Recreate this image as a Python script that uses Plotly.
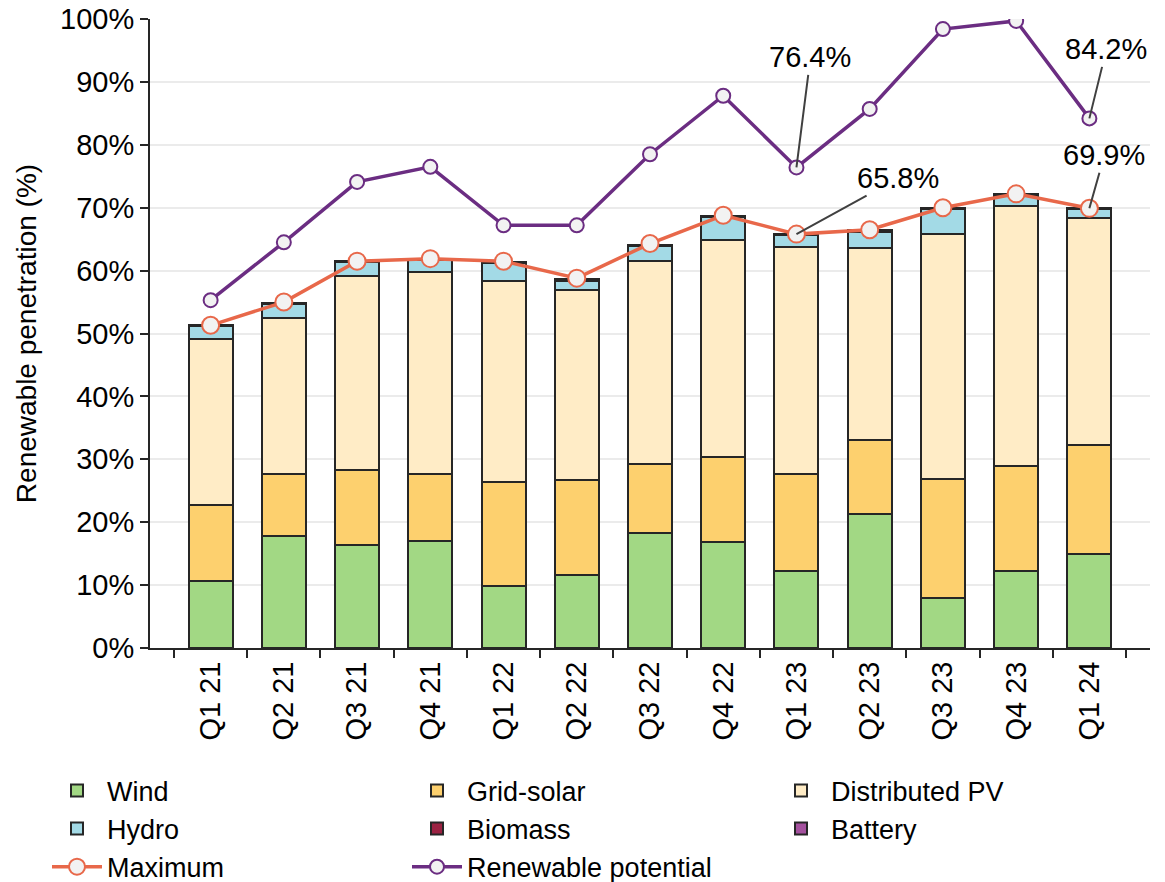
import plotly.graph_objects as go

categories = ["Q1 21", "Q2 21", "Q3 21", "Q4 21", "Q1 22", "Q2 22", "Q3 22",
              "Q4 22", "Q1 23", "Q2 23", "Q3 23", "Q4 23", "Q1 24"]
wind = [10.6, 17.8, 16.3, 17.0, 9.9, 11.6, 18.3, 16.9, 12.2, 21.3, 8.0, 12.2, 15.0]
grid_solar = [12.1, 9.9, 12.0, 10.6, 16.5, 15.1, 10.9, 13.5, 15.4, 11.8, 18.8, 16.7, 17.2]
distributed_pv = [26.4, 24.7, 30.8, 32.2, 31.9, 30.2, 32.4, 34.4, 36.1, 30.5, 39.0, 41.3, 36.1]
hydro = [2.1, 2.3, 2.2, 1.9, 2.9, 1.5, 2.3, 3.7, 1.9, 2.6, 4.0, 1.8, 1.5]
biomass = [0.2] * 13
battery = [0.0] * 13
maximum = [51.3, 55.0, 61.5, 61.9, 61.5, 58.8, 64.3, 68.8, 65.8, 66.5, 70.0, 72.2, 69.9]
potential = [55.3, 64.5, 74.1, 76.5, 67.2, 67.2, 78.5, 87.8, 76.4, 85.7, 98.4, 99.7, 84.2]

FONT = "Liberation Sans, Arial, sans-serif"
OUTLINE = "#262626"

fig = go.Figure()
bars = [
    ("Wind", wind, "#A2D884", "legend"),
    ("Grid-solar", grid_solar, "#FDD06E", "legend2"),
    ("Distributed PV", distributed_pv, "#FFECC6", "legend3"),
    ("Hydro", hydro, "#A3DAE6", "legend"),
    ("Biomass", biomass, "#9B2242", "legend2"),
    ("Battery", battery, "#A4519E", "legend3"),
]
for name, vals, col, lg in bars:
    fig.add_trace(go.Bar(x=categories, y=vals, name=name, width=0.6, legend=lg,
                         marker=dict(color=col, line=dict(color=OUTLINE, width=2))))

fig.add_trace(go.Scatter(x=categories, y=maximum, name="Maximum", mode="lines+markers",
                         legend="legend",
                         line=dict(color="#E8684A", width=3.5),
                         marker=dict(symbol="circle", size=17, color="#F2F2F2",
                                     line=dict(color="#E8684A", width=2))))
fig.add_trace(go.Scatter(x=categories, y=potential, name="Renewable potential", mode="lines+markers",
                         legend="legend2",
                         line=dict(color="#6B2D82", width=3.5),
                         marker=dict(symbol="circle", size=14, color="#F2F2F2",
                                     line=dict(color="#6B2D82", width=2))))

ann = [
    ("Q1 23", potential[8], "76.4%", 14, -110),
    ("Q1 24", potential[12], "84.2%", 17, -69),
    ("Q1 23", maximum[8], "65.8%", 102, -56),
    ("Q1 24", maximum[12], "69.9%", 15, -53),
]
for x, y, t, ax, ay in ann:
    fig.add_annotation(x=x, y=y, text=t, showarrow=True, arrowhead=0, arrowwidth=2,
                       arrowcolor="#404040", ax=ax, ay=ay, standoff=0,
                       font=dict(family=FONT, size=29, color="#000000"))

leg_common = dict(orientation="v", xref="paper", yref="container", xanchor="left",
                  yanchor="top", y=0.131, traceorder="normal", itemwidth=50,
                  font=dict(family=FONT, size=27), bgcolor="rgba(0,0,0,0)")
fig.update_layout(
    width=1165, height=882,
    barmode="stack",
    plot_bgcolor="white", paper_bgcolor="white",
    margin=dict(l=150, r=15, t=19, b=234, autoexpand=False),
    font=dict(family=FONT, size=28, color="#000000"),
    legend=dict(x=-0.103, **leg_common),
    legend2=dict(x=0.257, **leg_common),
    legend3=dict(x=0.621, **leg_common),
    showlegend=True,
)
fig.update_yaxes(range=[0, 100], dtick=10, ticksuffix="%", showline=True,
                 linecolor=OUTLINE, linewidth=2, ticks="outside", ticklen=8,
                 tickcolor=OUTLINE, tickwidth=2, showgrid=True, gridcolor="#EBEBEB",
                 gridwidth=1.5, zeroline=False, automargin=False, ticklabeloverflow="allow",
                 title=dict(text="Renewable penetration (%)", font=dict(size=28)),
                 tickfont=dict(size=29))
fig.update_xaxes(showline=True, linecolor=OUTLINE, linewidth=2, ticks="outside",
                 ticklen=8, tickcolor=OUTLINE, tickwidth=2, tickson="boundaries",
                 tickangle=-90, showgrid=False, tickfont=dict(size=29), automargin=False,
                 ticklabeloverflow="allow")

fig.write_html("out.html", config={"displayModeBar": False},
               post_script="document.body.style.margin='0';document.body.style.padding='0';")
